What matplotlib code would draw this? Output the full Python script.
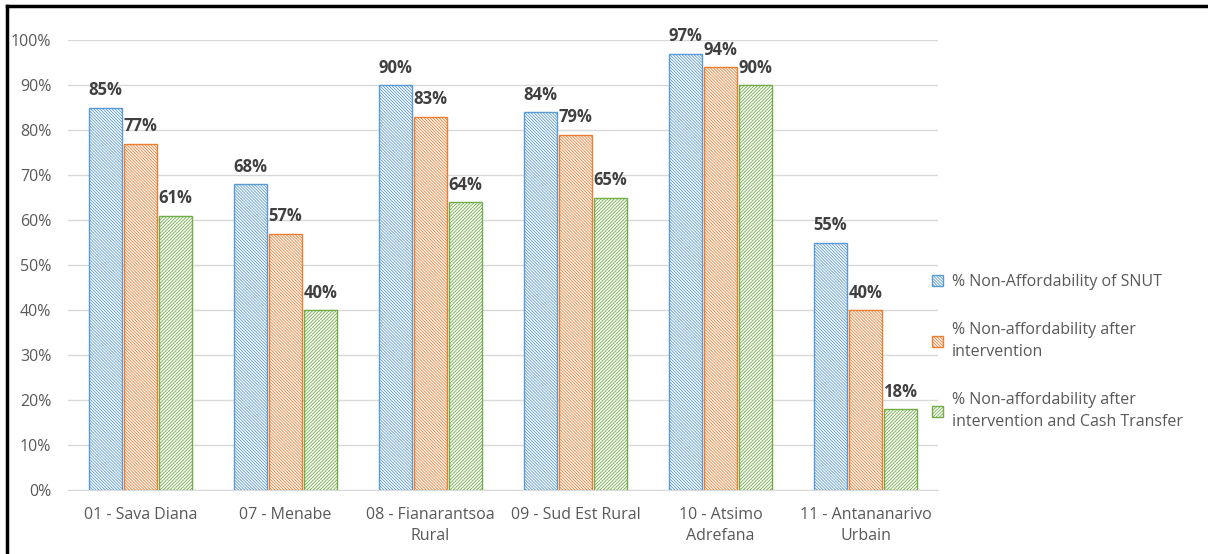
import numpy as np
import matplotlib.pyplot as plt
from matplotlib.lines import Line2D

plt.rcParams['font.family'] = ['Open Sans', 'DejaVu Sans']
plt.rcParams['hatch.linewidth'] = 0.6

# Données
regions = ["01 - Sava Diana", "07 - Menabe", "08 - Fianarantsoa\nRural",
           "09 - Sud Est Rural", "10 - Atsimo\nAdrefana", "11 - Antananarivo\nUrbain"]
snut = [85, 68, 90, 84, 97, 55]
after_interv = [77, 57, 83, 79, 94, 40]
after_cash = [61, 40, 64, 65, 90, 18]

series = [
    ("% Non-Affordability of SNUT", snut, "#5B9BD5", "\\" * 11),
    ("% Non-affordability after\nintervention", after_interv, "#ED7D31", "\\" * 11),
    ("% Non-affordability after\nintervention and Cash Transfer", after_cash, "#70AD47", "/" * 10),
]

fig = plt.figure(figsize=(12.08, 5.54), dpi=100)
ax = fig.add_axes([68 / 1208, 1 - 490 / 554, 870 / 1208, 450 / 554])

x = np.arange(len(regions))
width = 0.225
step = 0.241
for i, (name, vals, col, hatch) in enumerate(series):
    pos = x + (i - 1) * step
    ax.bar(pos, vals, width, facecolor="white", edgecolor=col, hatch=hatch,
           linewidth=1.0, label=name, zorder=3)
    for p, v in zip(pos, vals):
        ax.text(p, v + 1.8, f"{v}%", ha="center", va="bottom", fontsize=12,
                fontweight="bold", color="#404040", zorder=4)

ax.set_xlim(-0.5, len(regions) - 0.5)
ax.set_ylim(0, 100)
ax.set_yticks(range(0, 101, 10))
ax.set_yticklabels([f"{t}%" for t in range(0, 101, 10)])
ax.set_xticks(x)
ax.set_xticklabels(regions, linespacing=1.45)
ax.tick_params(axis="both", length=0, labelsize=11.5, labelcolor="#595959")
ax.tick_params(axis="y", pad=12)
ax.tick_params(axis="x", pad=12)
ax.grid(axis="y", color="#D9D9D9", linewidth=1, zorder=0)
for s in ["top", "right", "left"]:
    ax.spines[s].set_visible(False)
ax.spines["bottom"].set_color("#D9D9D9")

leg = fig.legend(loc="center left", bbox_to_anchor=(918 / 1208, 1 - 352 / 554),
                 frameon=False, fontsize=11.5, labelspacing=2.0,
                 handlelength=0.65, handleheight=0.65, handletextpad=0.55)
for t in leg.get_texts():
    t.set_color("#595959")
    t.set_linespacing(1.5)

# cadre noir (haut et gauche)
fig.add_artist(Line2D([7 / 1208, 1], [1 - 6 / 554, 1 - 6 / 554], color="black", linewidth=2.5))
fig.add_artist(Line2D([7 / 1208, 7 / 1208], [0, 1 - 6 / 554], color="black", linewidth=2.5))

plt.savefig("out.png", dpi=100)
